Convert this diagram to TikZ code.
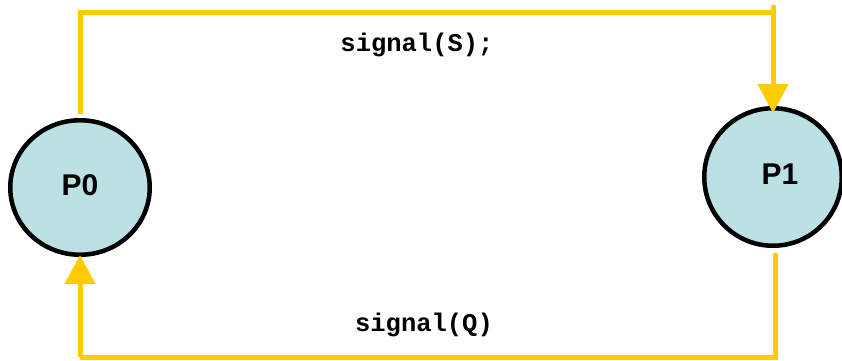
\documentclass[tikz,border=0pt]{standalone}
\usepackage{fontspec}
\setmainfont{Liberation Sans}
\newfontfamily\monob{Liberation Mono}
\usetikzlibrary{arrows.meta,shapes.geometric}
\definecolor{procfill}{HTML}{BCE1E4}
\definecolor{wireyellow}{HTML}{FFCC00}
\tikzset{
  proc/.style={ellipse, draw=black, line width=4.5pt, fill=procfill, inner sep=0pt},
  proclabel/.style={font=\fontsize{30}{32}\selectfont\bfseries, inner sep=0pt},
  wire/.style={draw=wireyellow, line width=5pt},
  wirearrow/.style={wire, -{Triangle[width=30pt,length=29pt]}},
  siglabel/.style={font=\monob\fontsize{25.5}{28}\selectfont\bfseries, inner sep=0pt}
}
\begin{document}
\begin{tikzpicture}[x=1pt,y=1pt]
\useasboundingbox (0,0) rectangle (842,-360);
\node[proc, minimum width=139.5pt, minimum height=134.5pt] (P0) at (80,-187.5) {};
\node[proclabel] (P0t) at (80,-185) {P0};
\node[proc, minimum width=137.5pt, minimum height=137.5pt] (P1) at (773,-177) {};
\node[proclabel] (P1t) at (780,-174) {P1};
\coordinate (tl) at (80,-12.5);
\coordinate (tr) at (773,-12.5);
\coordinate (trup) at (773,-5);
\coordinate (br) at (775,-357);
\coordinate (bl) at (80,-357);
\draw[wire] ([yshift=4.5pt]P0.north) -- (tl) -- (tr);
\draw[wirearrow] (trup) -- ([yshift=-7pt]P1.north);
\draw[wire] ([xshift=2pt,yshift=-5pt]P1.south) -- (br) -- (bl);
\draw[wirearrow] (bl) -- ([yshift=2pt]P0.south);
\node[siglabel] (lS) at (417,-45) {signal(S);};
\node[siglabel] (lQ) at (424,-325) {signal(Q)};
\end{tikzpicture}
\end{document}
